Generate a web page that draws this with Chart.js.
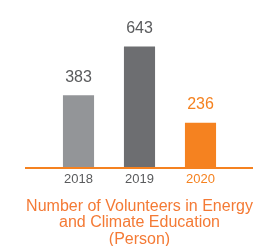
<!DOCTYPE html>
<html><head><meta charset="utf-8">
<script src="https://cdn.jsdelivr.net/npm/chart.js@4/dist/chart.umd.min.js"></script>
<style>html,body{margin:0;padding:0;background:#fff}#wrap{width:262px;height:246px}</style>
</head><body><div id="wrap"><canvas id="c"></canvas></div>
<script>
const categories = ['2018', '2019', '2020'];
const volunteers = [383, 643, 236];
const barColors = ['#939598', '#6d6e71', '#f58220'];
const labelColors = ['#5a5b5d', '#5a5b5d', '#f58220'];
const titleLines = ['Number of Volunteers in Energy', 'and Climate Education', '(Person)'];
const ORANGE = '#f58220';
const TITLE_COLOR = '#f47a35';
const FONT = '"Liberation Sans", Arial, sans-serif';

const decor = {
  id: 'decor',
  afterDatasetsDraw(chart) {
    const ctx = chart.ctx;
    const area = chart.chartArea;
    const y0 = chart.scales.y.getPixelForValue(0);
    ctx.save();
    ctx.strokeStyle = ORANGE;
    ctx.lineWidth = 2;
    ctx.beginPath();
    ctx.moveTo(25, y0 + 1);
    ctx.lineTo(253, y0 + 1);
    ctx.stroke();
    const meta = chart.getDatasetMeta(0);
    ctx.font = '16px ' + FONT;
    ctx.textAlign = 'center';
    ctx.textBaseline = 'middle';
    meta.data.forEach((bar, i) => {
      ctx.fillStyle = labelColors[i];
      ctx.fillText(String(volunteers[i]), bar.x, bar.y - 18);
    });
    const cx = (area.left + area.right) / 2;
    const xb = chart.scales.x.bottom;
    ctx.fillStyle = TITLE_COLOR;
    titleLines.forEach((t, i) => {
      ctx.fillText(t, cx, xb + 13.6 + i * 16.65);
    });
    ctx.restore();
  }
};

new Chart(document.getElementById('c'), {
  type: 'bar',
  data: {
    labels: categories,
    datasets: [{ data: volunteers, backgroundColor: barColors, borderWidth: 0,
      barPercentage: 1, categoryPercentage: 0.51 }]
  },
  options: {
    responsive: true, maintainAspectRatio: false, animation: false,
    layout: { padding: { left: 48, right: 31, top: 17, bottom: 53.4 } },
    plugins: {
      legend: { display: false }, tooltip: { enabled: false }, title: { display: false }
    },
    scales: {
      x: { grid: { display: false, drawTicks: false }, border: { display: false },
        ticks: { padding: 5, color: (c) => labelColors[c.index], font: { family: FONT, size: 13 } } },
      y: { display: false, min: 0, max: 800 }
    }
  },
  plugins: [decor]
});
</script></body></html>
